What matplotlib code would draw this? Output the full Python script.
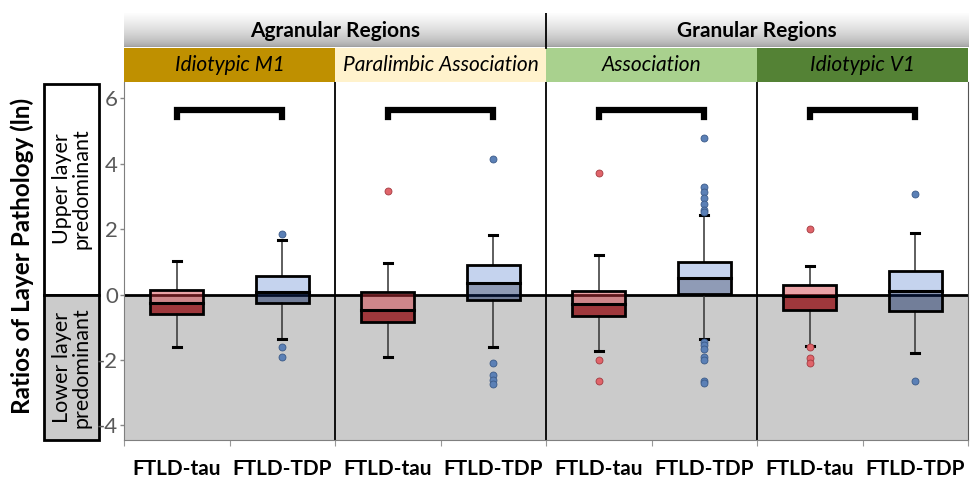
import numpy as np
import matplotlib.pyplot as plt
from matplotlib.patches import Rectangle

plt.rcParams['font.family'] = ['Lato', 'DejaVu Sans']
plt.rcParams['axes.unicode_minus'] = False

# categories
groups = ['FTLD-tau', 'FTLD-TDP'] * 4
regions = ['Idiotypic M1', 'Paralimbic Association', 'Association', 'Idiotypic V1']
region_colors = ['#BF9000', '#FFF2CC', '#A9D18E', '#548235']
super_regions = ['Agranular Regions', 'Granular Regions']

# box statistics (ln ratio)
q1 = [-0.59, -0.25, -0.83, -0.18, -0.66, 0.01, -0.46, -0.51]
med = [-0.25, 0.07, -0.48, 0.36, -0.28, 0.50, -0.05, 0.10]
q3 = [0.15, 0.58, 0.07, 0.91, 0.10, 1.00, 0.30, 0.71]
whislo = [-1.61, -1.37, -1.91, -1.61, -1.73, -1.37, -1.58, -1.78]
whishi = [1.02, 1.68, 0.95, 1.82, 1.20, 2.44, 0.86, 1.88]
fliers = [
    [],
    [1.86, -1.61, -1.90],
    [3.16],
    [4.16, -2.11, -2.45, -2.62, -2.74],
    [3.73, -2.01, -2.65],
    [4.80, 3.30, 3.13, 2.96, 2.78, 2.59, 2.52,
     -1.44, -1.54, -1.66, -1.90, -2.01, -2.64, -2.71],
    [2.01, -1.60, -1.94, -2.10],
    [3.06, -2.64],
]
bracket_y = 5.65

ylo, yhi = -4.45, 6.5
W, H = 971, 480
L, R, T, B = 124, 968, 82, 440

fig = plt.figure(figsize=(W / 100, H / 100), dpi=100)

# left annotation boxes (drawn first, under the tick labels)
lax = fig.add_axes([44 / W, 1 - B / H, 55 / W, (B - T) / H])
lax.set_zorder(0)
lax.set_xlim(0, 1)
lax.set_ylim(ylo, yhi)
lax.axis('off')
lax.add_patch(Rectangle((0, 0), 1, yhi - 0.05, facecolor='white', edgecolor='black',
                        lw=2, clip_on=False))
lax.add_patch(Rectangle((0, ylo), 1, -ylo, facecolor='#CBCBCB', edgecolor='black',
                        lw=2, clip_on=False))
lax.text(0.5, yhi / 2, 'Upper layer\npredominant', rotation=90, ha='center',
         va='center', fontsize=15.5, linespacing=1.0)
lax.text(0.5, ylo / 2, 'Lower layer\npredominant', rotation=90, ha='center',
         va='center', fontsize=15.5, linespacing=1.0)

ax = fig.add_axes([L / W, 1 - B / H, (R - L) / W, (B - T) / H])
ax.set_zorder(2)
ax.set_xlim(-0.5, 7.5)
ax.set_ylim(ylo, yhi)

ax.axhspan(ylo, 0, color='#CBCBCB', zorder=0, lw=0)
ax.axhline(0, color='black', lw=2, zorder=1)
for xd in [1.5, 3.5, 5.5]:
    ax.axvline(xd, color='black', lw=1.3, zorder=1)

pos = np.arange(8)
upper_col = ['#D3333C', '#7F9EDA']
lower_col = ['#951318', '#07215D']
lower_alpha = [0.8, 0.45]
flier_face = ['#E0646A', '#5B80B6']
flier_edge = ['#A33A40', '#3B5A88']

for g in range(2):
    idx = list(range(g, 8, 2))
    stats = [dict(med=med[i], q1=q1[i], q3=q3[i], whislo=whislo[i],
                  whishi=whishi[i], fliers=fliers[i]) for i in idx]
    ax.bxp(stats, positions=pos[idx], widths=0.5, showbox=False,
           capwidths=0.075,
           whiskerprops=dict(color='#333333', lw=1.1),
           capprops=dict(color='black', lw=2.2),
           medianprops=dict(color='none'),
           flierprops=dict(marker='o', markersize=5, markerfacecolor=flier_face[g],
                           markeredgecolor=flier_edge[g], markeredgewidth=0.6),
           zorder=3)
    for i in idx:
        ax.bar(i, q3[i] - med[i], bottom=med[i], width=0.5, color=upper_col[g],
               alpha=0.45, lw=0, zorder=2)
        ax.bar(i, med[i] - q1[i], bottom=q1[i], width=0.5, color=lower_col[g],
               alpha=lower_alpha[g], lw=0, zorder=2)
        ax.bar(i, q3[i] - q1[i], bottom=q1[i], width=0.5, fill=False,
               edgecolor='black', lw=2, zorder=4)
        ax.plot([i - 0.25, i + 0.25], [med[i], med[i]], color='black', lw=2.2, zorder=4)

# significance brackets
for k in range(4):
    x0, x1 = 2 * k, 2 * k + 1
    ax.plot([x0, x0, x1, x1], [bracket_y - 0.22, bracket_y, bracket_y, bracket_y - 0.22],
            color='black', lw=4.5, solid_joinstyle='miter', zorder=5)

ax.set_yticks([-4, -2, 0, 2, 4, 6])
ax.tick_params(axis='y', labelsize=16, labelcolor='#595959', color='#888888',
               length=3, width=1, pad=1.5)
ax.set_xticks(np.arange(-0.5, 8, 1))
ax.set_xticklabels([])
ax.set_xticks(pos, labels=groups, minor=True)
ax.tick_params(axis='x', which='major', color='#999999', length=4)
ax.tick_params(axis='x', which='minor', length=0, pad=14, labelsize=15)
for lab in ax.get_xticklabels(minor=True):
    lab.set_fontweight('bold')
ax.spines['left'].set_color('#7F7F7F')
ax.spines['bottom'].set_color('#7F7F7F')
ax.spines['right'].set_color('#555555')
ax.spines['top'].set_visible(False)

# header bands
hax = fig.add_axes([L / W, 1 - T / H, (R - L) / W, (T - 13) / H])
hax.set_xlim(-0.5, 7.5)
hax.axis('off')
grad = 0.62 + 0.38 * np.linspace(0, 1, 64) ** 0.6
img = np.repeat(grad[:, None], 2, axis=1)
hax.imshow(np.dstack([img, img, img]), extent=(-0.5, 7.5, 2, 1), aspect='auto',
           origin='upper', zorder=0)
hax.set_ylim(0, 2)
for k, (name, col) in enumerate(zip(regions, region_colors)):
    hax.add_patch(Rectangle((2 * k - 0.5, 0), 2, 1, facecolor=col, lw=0, zorder=1))
    hax.text(2 * k + 0.5, 0.48, name, ha='center', va='center', fontsize=15,
             style='italic', zorder=2)
for k, name in enumerate(super_regions):
    hax.text(4 * k + 1.5, 1.47, name, ha='center', va='center', fontsize=15,
             fontweight='bold', zorder=2)
hax.plot([3.5, 3.5], [1, 2], color='black', lw=1.3, zorder=2)

fig.text(22 / W, 1 - 256 / H, 'Ratios of Layer Pathology (ln)', rotation=90,
         ha='center', va='center', fontsize=17.5, fontweight='bold')

fig.savefig('out.png', dpi=100)
